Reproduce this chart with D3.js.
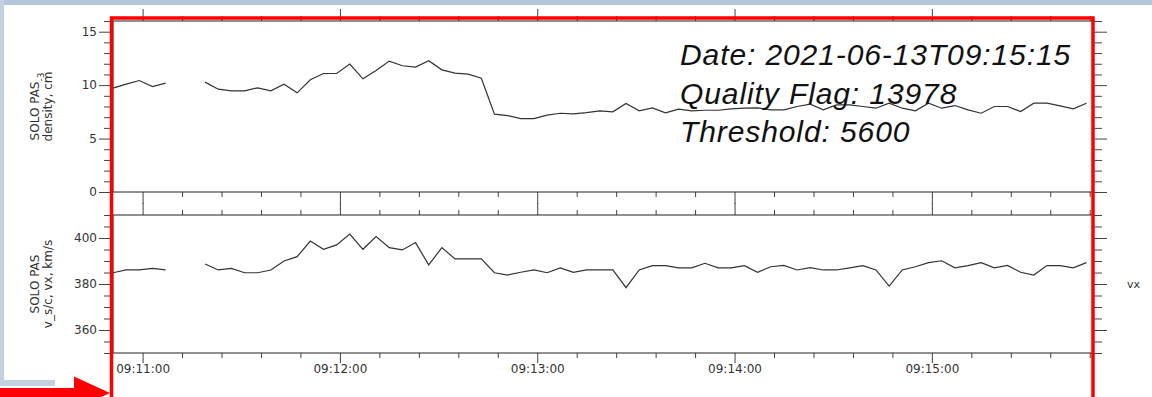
<!DOCTYPE html>
<html>
<head>
<meta charset="utf-8">
<script src="https://cdn.jsdelivr.net/npm/d3@7"></script>
<style>
  body { margin: 0; padding: 0; background: #fff; }
  svg { display: block; }
  .tick text { font-family: "DejaVu Sans", sans-serif; font-size: 12px; fill: #333; }
  .tick line { stroke: #444; }
</style>
</head>
<body>
<div id="chart"></div>
<script>

// time grid: SOLO PAS samples, 4 s cadence starting 09:10:51 UTC
var startTime = Date.UTC(2021, 5, 13, 9, 10, 51);
var endTime = Date.UTC(2021, 5, 13, 9, 15, 49);
var cadence = 4; // seconds

// density, cm-3 (null = data gap)
var density = [9.72, 10.1, 10.43, 9.87, 10.19, null, null, 10.28, 9.62, 9.47,
  9.47, 9.75, 9.47, 10.09, 9.28, 10.5, 11.09, 11.09, 11.97, 10.59,
  11.37, 12.25, 11.81, 11.69, 12.28, 11.43, 11.12, 11.03, 10.65, 7.28,
  7.15, 6.87, 6.87, 7.19, 7.37, 7.31, 7.43, 7.59, 7.5, 8.28,
  7.59, 7.87, 7.4, 7.75, 7.59, 7.65, 7.65, 7.78, 7.84, 7.87,
  7.68, 7.68, 8.0, 8.22, 7.68, 8.15, 8.15, 8.0, 7.84, 8.31,
  7.84, 7.59, 8.31, 7.84, 8.09, 7.68, 7.37, 8.0, 8.0, 7.53,
  8.31, 8.31, 8.06, 7.78, 8.31];

// vx, km/s
var vx = [384.9, 386.1, 386.1, 386.8, 386.1, null, null, 388.7, 386.1, 386.8,
  384.9, 384.9, 386.1, 390.0, 391.9, 398.7, 395.1, 397.0, 401.7, 395.1,
  400.6, 395.8, 394.8, 398.0, 388.3, 395.8, 390.9, 390.9, 390.9, 384.9,
  383.9, 385.1, 386.1, 384.9, 387.0, 385.1, 386.1, 386.1, 386.1, 378.4,
  386.1, 388.0, 388.0, 387.0, 387.0, 389.0, 387.0, 387.0, 388.0, 385.1,
  387.5, 388.1, 386.1, 387.1, 386.1, 386.1, 387.0, 388.0, 386.1, 379.1,
  386.1, 387.5, 389.3, 390.1, 387.0, 388.0, 389.3, 387.0, 388.1, 385.1,
  383.9, 388.0, 388.0, 387.0, 389.3];

// tick labels
var densityTicks = [0, 5, 10, 15];
var vxTicks = [360, 380, 400];
var annotation = ["Date: 2021-06-13T09:15:15", "Quality Flag: 13978", "Threshold: 5600"];

var W = 1152, H = 397;
var plotLeft = 113, plotRight = 1093;
var p1 = {top: 21, bottom: 192};
var p2 = {top: 215, bottom: 353};

var svg = d3.select("#chart").append("svg")
  .attr("width", W)
  .attr("height", H);

// window background bits
svg.append("rect").attr("x", 0).attr("y", 0).attr("width", W).attr("height", H).attr("fill", "#fff");
svg.append("rect").attr("x", 0).attr("y", 0).attr("width", W).attr("height", 5).attr("fill", "#b4c7dd");
svg.append("rect").attr("x", 0).attr("y", 0).attr("width", 4).attr("height", 386).attr("fill", "#c3d1e2");
svg.append("rect").attr("x", 0).attr("y", 380).attr("width", 55).attr("height", 6).attr("fill", "#c3d1e2");

var xScale = d3.scaleUtc().domain([startTime, endTime]).range([plotLeft, plotRight]);
var y1 = d3.scaleLinear().domain([0, 16]).range([p1.bottom, p1.top]);
var y2 = d3.scaleLinear().domain([350, 410]).range([p2.bottom, p2.top]);

var majorX = d3.utcMinute.range(new Date(startTime), new Date(endTime));
var minorX = d3.utcSecond.every(12).range(new Date(startTime), new Date(endTime))
  .filter(function(d) { return d.getUTCSeconds() !== 0; });
var fmt = d3.utcFormat("%H:%M:%S");

function xAxes(panel, showLabels) {
  // top: outward ticks
  var gt = svg.append("g").attr("transform", "translate(0," + panel.top + ")");
  gt.call(d3.axisTop(xScale).tickValues(majorX).tickSize(12).tickFormat(""));
  gt.append("g").call(d3.axisTop(xScale).tickValues(minorX).tickSize(5).tickFormat(""));
  var gb = svg.append("g").attr("transform", "translate(0," + panel.bottom + ")");
  gb.call(d3.axisBottom(xScale).tickValues(majorX).tickSize(showLabels ? 10 : 12).tickPadding(1)
    .tickFormat(showLabels ? fmt : ""));
  gb.append("g").call(d3.axisBottom(xScale).tickValues(minorX).tickSize(5).tickFormat(""));
  svg.selectAll(".domain").remove();
}

function yAxes(y, majors, minors) {
  var gl = svg.append("g").attr("transform", "translate(" + plotLeft + ",0)");
  gl.call(d3.axisLeft(y).tickValues(majors).tickSize(14).tickPadding(2));
  gl.append("g").call(d3.axisLeft(y).tickValues(minors).tickSize(9).tickFormat(""));
  var gr = svg.append("g").attr("transform", "translate(" + plotRight + ",0)");
  gr.call(d3.axisRight(y).tickValues(majors).tickSize(14).tickFormat(""));
  gr.append("g").call(d3.axisRight(y).tickValues(minors).tickSize(9).tickFormat(""));
  svg.selectAll(".domain").remove();
}

xAxes(p1, false);
xAxes(p2, true);
yAxes(y1, densityTicks, d3.range(0, 17, 1).filter(function(v) { return v % 5 !== 0; }));
yAxes(y2, vxTicks, d3.range(350, 411, 5).filter(function(v) { return v % 20 !== 0; }));

// panel frames
[p1, p2].forEach(function(p) {
  svg.append("rect")
    .attr("x", plotLeft).attr("y", p.top)
    .attr("width", plotRight - plotLeft).attr("height", p.bottom - p.top)
    .attr("fill", "none").attr("stroke", "#222").attr("stroke-width", 1);
});

function timeOf(i) { return startTime + i * cadence * 1000; }

var line1 = d3.line()
  .defined(function(d) { return d !== null; })
  .x(function(d, i) { return xScale(timeOf(i)); })
  .y(function(d) { return y1(d); });
var line2 = d3.line()
  .defined(function(d) { return d !== null; })
  .x(function(d, i) { return xScale(timeOf(i)); })
  .y(function(d) { return y2(d); });

svg.append("path").datum(density).attr("d", line1)
  .attr("fill", "none").attr("stroke", "#333").attr("stroke-width", 1.2);
svg.append("path").datum(vx).attr("d", line2)
  .attr("fill", "none").attr("stroke", "#333").attr("stroke-width", 1.2);

// y axis titles (rotated, two lines)
function yTitle(cy, line1Text, sub, line2Text) {
  var t = svg.append("text")
    .attr("transform", "translate(39," + cy + ") rotate(-90)")
    .attr("text-anchor", "middle")
    .style("font-family", "DejaVu Sans, sans-serif")
    .style("font-size", "12px")
    .attr("fill", "#333");
  var a = t.append("tspan").attr("x", 0).attr("y", 0).text(line1Text);
  if (sub) a.append("tspan").attr("dy", 5).style("font-size", "9px").text(sub);
  t.append("tspan").attr("x", 0).attr("y", 13).text(line2Text);
}
yTitle((p1.top + p1.bottom) / 2, "SOLO PAS", "-3", "density, cm");
yTitle((p2.top + p2.bottom) / 2, "SOLO PAS", null, "v_s/c, vx, km/s");

svg.append("text")
  .attr("x", 1127).attr("y", (p2.top + p2.bottom) / 2 + 4)
  .style("font-family", "DejaVu Sans, sans-serif")
  .style("font-size", "11px")
  .attr("fill", "#333")
  .text("vx");

// annotation
svg.append("g").selectAll("text")
  .data(annotation)
  .enter().append("text")
  .attr("x", 680)
  .attr("y", function(d, i) { return 65 + i * 38.5; })
  .style("font-family", "Liberation Sans, Arial, sans-serif")
  .style("font-style", "italic")
  .style("font-size", "30px")
  .style("letter-spacing", "0.9px")
  .attr("fill", "#111")
  .text(function(d) { return d; });

// red highlight frame and arrow
svg.append("rect")
  .attr("x", 111.5).attr("y", 18)
  .attr("width", 981.5).attr("height", 500)
  .attr("fill", "none").attr("stroke", "#ff0000").attr("stroke-width", 3.5);
svg.append("path")
  .attr("d", "M0,388 L74,388 L74,376.5 L110,393 L74,409.5 L74,398 L0,398 Z")
  .attr("fill", "#ff0000");

</script>
</body>
</html>
